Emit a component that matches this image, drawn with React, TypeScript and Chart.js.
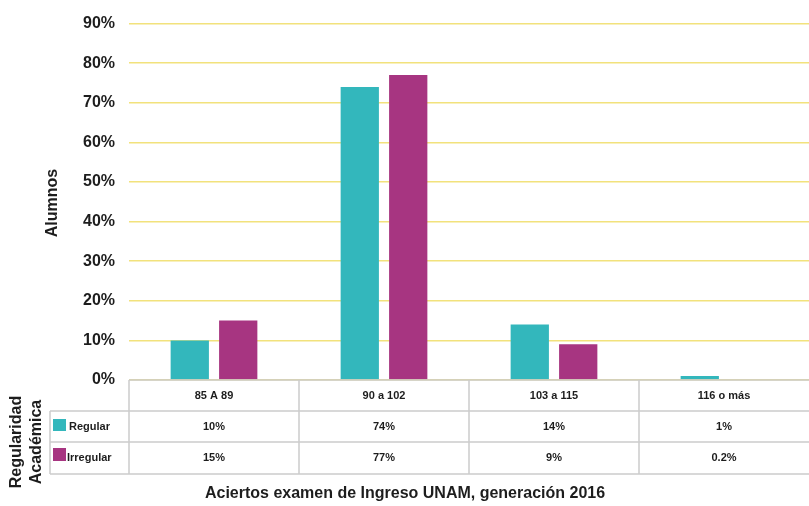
import React, { useEffect, useRef } from "react";
import { Chart, registerables } from "chart.js";

Chart.register(...registerables);

const categories = ["85 A 89", "90 a 102", "103 a 115", "116 o más"];
const regular = [10, 74, 14, 1];
const irregular = [15, 77, 9, 0.2];
const seriesNames = ["Regular", "Irregular"];
const yMin = 0;
const yMax = 90;
const yStep = 10;
const yTitle = "Alumnos";
const xTitle = "Aciertos examen de Ingreso UNAM, generación 2016";
const tableTitle = ["Regularidad", "Académica"];

const TEAL = "#33b7bc";
const MAGENTA = "#a73581";
const TEXT = "#1d1d1d";
const LINE = "#cccccc";
const FONT = "'Liberation Sans', Arial, sans-serif";

const tablePlugin = {
  id: "dataTable",
  afterDraw(chart: any) {
    const ctx = chart.ctx as CanvasRenderingContext2D;
    const area = chart.chartArea;
    const xs = chart.scales.x;
    const colW = xs.getPixelForValue(1) - xs.getPixelForValue(0);
    const top = area.bottom;
    const rowLines = [top, top + 31, top + 62, top + 94];
    const legendLeft = 50;

    ctx.save();
    ctx.strokeStyle = LINE;
    ctx.lineWidth = 1.5;
    ctx.beginPath();
    ctx.moveTo(area.left, rowLines[0]);
    ctx.lineTo(area.right, rowLines[0]);
    for (let r = 1; r < rowLines.length; r++) {
      ctx.moveTo(legendLeft, rowLines[r]);
      ctx.lineTo(area.right, rowLines[r]);
    }
    ctx.moveTo(legendLeft, rowLines[1]);
    ctx.lineTo(legendLeft, rowLines[3]);
    for (let i = 0; i < categories.length; i++) {
      const bx = xs.getPixelForValue(i) - colW / 2;
      ctx.moveTo(bx, rowLines[0]);
      ctx.lineTo(bx, rowLines[3]);
    }
    ctx.stroke();

    ctx.fillStyle = TEXT;
    ctx.font = `bold 11px ${FONT}`;
    ctx.textAlign = "center";
    ctx.textBaseline = "middle";
    const rowMid = (r: number) => (rowLines[r] + rowLines[r + 1]) / 2;
    categories.forEach((c, i) => {
      const cx = xs.getPixelForValue(i);
      ctx.fillText(c, cx, rowMid(0));
      ctx.fillText(`${regular[i]}%`, cx, rowMid(1));
      ctx.fillText(`${irregular[i]}%`, cx, rowMid(2));
    });

    // legend keys
    ctx.fillStyle = TEAL;
    ctx.fillRect(53, rowLines[1] + 8, 13, 12);
    ctx.fillStyle = MAGENTA;
    ctx.fillRect(53, rowLines[2] + 6, 13, 13);
    ctx.fillStyle = TEXT;
    ctx.textAlign = "left";
    ctx.fillText(seriesNames[0], 69, rowMid(1));
    ctx.fillText(seriesNames[1], 67, rowMid(2));

    // rotated table title
    ctx.font = `bold 16px ${FONT}`;
    ctx.textAlign = "center";
    ctx.save();
    ctx.translate(17, 442);
    ctx.rotate(-Math.PI / 2);
    ctx.fillText(tableTitle[0], 0, 0);
    ctx.restore();
    ctx.save();
    ctx.translate(37, 442);
    ctx.rotate(-Math.PI / 2);
    ctx.fillText(tableTitle[1], 0, 0);
    ctx.restore();

    // y title
    ctx.save();
    ctx.translate(53, 203);
    ctx.rotate(-Math.PI / 2);
    ctx.fillText(yTitle, 0, 0);
    ctx.restore();

    // x title
    ctx.fillText(xTitle, 405, 494);
    ctx.restore();
  },
};

export default function App() {
  const ref = useRef<HTMLCanvasElement>(null);
  useEffect(() => {
    if (!ref.current) return;
    const chart = new Chart(ref.current, {
      type: "bar",
      data: {
        labels: categories,
        datasets: [
          {
            label: seriesNames[0],
            data: regular,
            backgroundColor: TEAL,
            barPercentage: 0.79,
            categoryPercentage: 0.57,
          },
          {
            label: seriesNames[1],
            data: irregular,
            backgroundColor: MAGENTA,
            barPercentage: 0.79,
            categoryPercentage: 0.57,
          },
        ],
      },
      options: {
        responsive: false,
        animation: false,
        layout: { padding: { top: 20, bottom: 126, left: 0, right: 0 } },
        plugins: { legend: { display: false }, tooltip: { enabled: false } },
        scales: {
          x: { display: false },
          y: {
            min: yMin,
            max: yMax,
            afterFit: (s: any) => {
              s.width = 129;
            },
            ticks: {
              stepSize: yStep,
              padding: 14,
              color: TEXT,
              font: { family: FONT, size: 16, weight: "bold" },
              callback: (v: any) => `${v}%`,
            },
            grid: { color: "#f2e27c", lineWidth: 1.5, drawTicks: false },
            border: { display: false },
          },
        },
      },
      plugins: [tablePlugin],
    });
    return () => chart.destroy();
  }, []);
  return (
    <div style={{ position: "fixed", left: 0, top: 0, width: 809, height: 506, background: "#fff" }}>
      <canvas ref={ref} width={809} height={506} style={{ display: "block" }} />
    </div>
  );
}
